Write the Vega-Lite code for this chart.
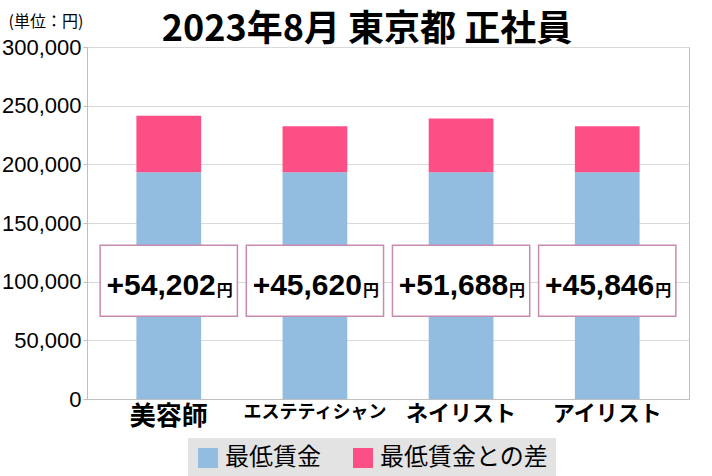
{
  "$schema": "https://vega.github.io/schema/vega-lite/v6.json",
  "width": 602,
  "height": 352,
  "autosize": {"type": "none"},
  "padding": {"left": 87, "top": 47, "right": 23, "bottom": 77},
  "background": "white",
  "title": {
    "text": "2023年8月 東京都 正社員",
    "font": "Noto Sans CJK JP",
    "fontSize": 36,
    "fontWeight": "bold",
    "color": "black",
    "anchor": "middle",
    "dx": -21,
    "dy": 40,
    "offset": 4
  },
  "datasets": {
    "bars": [
      {"job": "美容師", "series": "最低賃金", "value": 193200},
      {"job": "美容師", "series": "最低賃金との差", "value": 48200},
      {"job": "エステティシャン", "series": "最低賃金", "value": 193200},
      {"job": "エステティシャン", "series": "最低賃金との差", "value": 39200},
      {"job": "ネイリスト", "series": "最低賃金", "value": 193200},
      {"job": "ネイリスト", "series": "最低賃金との差", "value": 45800},
      {"job": "アイリスト", "series": "最低賃金", "value": 193200},
      {"job": "アイリスト", "series": "最低賃金との差", "value": 39200}
    ],
    "labels": [
      {"job": "美容師", "diff": 54202},
      {"job": "エステティシャン", "diff": 45620},
      {"job": "ネイリスト", "diff": 51688},
      {"job": "アイリスト", "diff": 45846}
    ]
  },
  "layer": [
    {
      "data": {"name": "bars"},
      "mark": {"type": "bar"},
      "encoding": {
        "x": {
          "field": "job",
          "type": "nominal",
          "sort": ["美容師", "エステティシャン", "ネイリスト", "アイリスト"],
          "scale": {"paddingInner": 0.557, "paddingOuter": 0.338},
          "axis": {
            "title": null,
            "labelAngle": 0,
            "labelFont": "Noto Sans CJK JP",
            "labelFontWeight": "bold",
            "labelColor": "black",
            "labelFontSize": {
              "condition": [
                {"test": "datum.value === 'エステティシャン'", "value": 18},
                {"test": "datum.value === '美容師'", "value": 26}
              ],
              "value": 22
            },
            "labelPadding": 4,
            "ticks": false,
            "domainColor": "#bfbfbf"
          }
        },
        "y": {
          "field": "value",
          "type": "quantitative",
          "stack": "zero",
          "scale": {"domain": [0, 300000]},
          "axis": {
            "values": [0, 50000, 100000, 150000, 200000, 250000, 300000],
            "format": ",d",
            "labelFont": "Liberation Sans",
            "labelFontSize": 22,
            "labelColor": "black",
            "labelPadding": 2,
            "tickSize": 4,
            "tickColor": "#bfbfbf",
            "domainColor": "#bfbfbf",
            "gridColor": "#d9d9d9",
            "title": "(単位：円)",
            "titleAngle": 0,
            "titleX": -79,
            "titleY": -26,
            "titleAlign": "left",
            "titleBaseline": "middle",
            "titleFont": "Noto Sans CJK JP",
            "titleFontSize": 16,
            "titleFontWeight": "normal",
            "titleColor": "black"
          }
        },
        "color": {
          "field": "series",
          "type": "nominal",
          "scale": {"domain": ["最低賃金", "最低賃金との差"], "range": ["#92bde0", "#fb4f86"]},
          "legend": {
            "title": null,
            "orient": "none",
            "legendX": 101,
            "legendY": 391,
            "direction": "horizontal",
            "symbolType": "square",
            "symbolSize": 400,
            "symbolStrokeWidth": 0,
            "labelFont": "Noto Sans CJK JP",
            "labelFontSize": 24,
            "labelColor": "black",
            "labelLimit": 300,
            "labelOffset": 5,
            "columnPadding": 30,
            "fillColor": "#e3e3e3",
            "padding": 8
          }
        },
        "order": {"field": "series", "sort": "ascending"}
      }
    },
    {
      "data": {"name": "labels"},
      "mark": {"type": "bar", "fill": "white", "stroke": "#c98ab0", "strokeWidth": 1.5, "width": {"band": 2.12}},
      "encoding": {
        "x": {"field": "job", "type": "nominal", "sort": ["美容師", "エステティシャン", "ネイリスト", "アイリスト"]},
        "y": {"datum": 70500},
        "y2": {"datum": 131000}
      }
    },
    {
      "data": {"name": "labels"},
      "mark": {"type": "text", "font": "Liberation Sans", "fontWeight": "bold", "fontSize": 30, "align": "right", "baseline": "alphabetic", "dx": 47, "color": "black"},
      "encoding": {
        "x": {"field": "job", "type": "nominal", "sort": ["美容師", "エステティシャン", "ネイリスト", "アイリスト"]},
        "y": {"datum": 88500},
        "text": {"field": "diff", "type": "quantitative", "format": "+,d"}
      }
    },
    {
      "data": {"name": "labels"},
      "mark": {"type": "text", "font": "Noto Sans CJK JP", "fontWeight": "bold", "fontSize": 16, "align": "left", "baseline": "alphabetic", "dx": 48, "color": "black"},
      "encoding": {
        "x": {"field": "job", "type": "nominal", "sort": ["美容師", "エステティシャン", "ネイリスト", "アイリスト"]},
        "y": {"datum": 87500},
        "text": {"value": "円"}
      }
    }
  ],
  "config": {
    "view": {"stroke": "#bfbfbf"}
  }
}
